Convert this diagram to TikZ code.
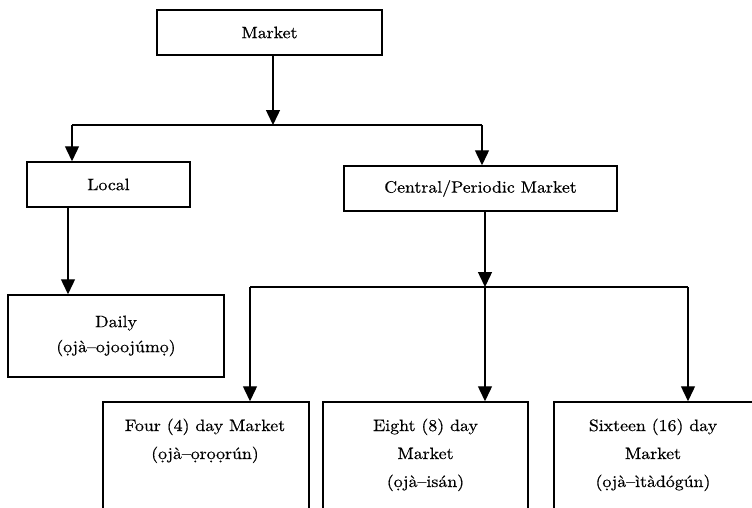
\documentclass[tikz,border=0pt]{standalone}
\usepackage{fontspec}
\setmainfont{lmroman10-regular.otf}[FakeStretch=1.08,FakeBold=0.5]
\usetikzlibrary{arrows.meta}
\begin{document}
\begin{tikzpicture}[x=1pt,y=-1pt,
  box/.style={draw=black,line width=1.5pt,rectangle,inner sep=0pt,align=center,
    font=\fontsize{16.5}{25}\selectfont},
  lbl/.style={inner sep=0pt,align=center,anchor=base,font=\fontsize{16.5}{28}\selectfont},
  conn/.style={line width=1.4pt},
  arr/.style={conn,-{Triangle[width=14pt,length=15pt]}}]
\useasboundingbox (0,0) rectangle (752,507);
\clip (0,0) rectangle (752,507);

% boxes
\node[box,minimum width=225pt,minimum height=45pt] (market) at (269.5,32.5) {Market};
\node[box,minimum width=163pt,minimum height=45pt] (local) at (108.5,184.5) {Local};
\node[box,minimum width=273pt,minimum height=45pt] (central) at (480.5,188.5) {Central/Periodic Market};
\node[box,minimum width=216pt,minimum height=82pt] (daily) at (116,336) {Daily\\(ọjà–ojoojúmọ)};
\node[box,minimum width=206pt,minimum height=140pt] (four) at (206,472) {};
\node[box,minimum width=205pt,minimum height=140pt] (eight) at (425.5,472) {};
\node[box,minimum width=206pt,minimum height=140pt] (sixteen) at (657,472) {};

% texts of the lower boxes (base anchor = baseline of the last line)
\node[lbl] (fourtxt) at (205,459) {Four (4) day Market\\(ọjà–ọrọọrún)};
\node[lbl] (eighttxt) at (425.5,487) {Eight (8) day\\Market\\(ọjà–isán)};
\node[lbl] (sixteentxt) at (653,487) {Sixteen (16) day\\Market\\(ọjà–ìtàdógún)};

% junction coordinates
\coordinate (j1) at (273,125);
\coordinate (jl) at (72,125);
\coordinate (jr) at (482,125);
\coordinate (dx) at (68,250);
\coordinate (j2) at (485,287);
\coordinate (f4) at (250,287);
\coordinate (f16) at (688,287);

% connectors
\draw[arr] (market.south -| j1) -- (j1);
\draw[conn] (jl) -- (jr);
\draw[arr] (jl) -- (local.north -| jl);
\draw[arr] (jr) -- (central.north -| jr);
\draw[arr] (local.south -| dx) -- (daily.north -| dx);
\draw[arr] (central.south -| j2) -- (j2);
\draw[conn] (f4) -- (f16);
\draw[arr] (f4) -- (four.north -| f4);
\draw[arr] (j2) -- (eight.north -| j2);
\draw[arr] (f16) -- (sixteen.north -| f16);
\end{tikzpicture}
\end{document}
